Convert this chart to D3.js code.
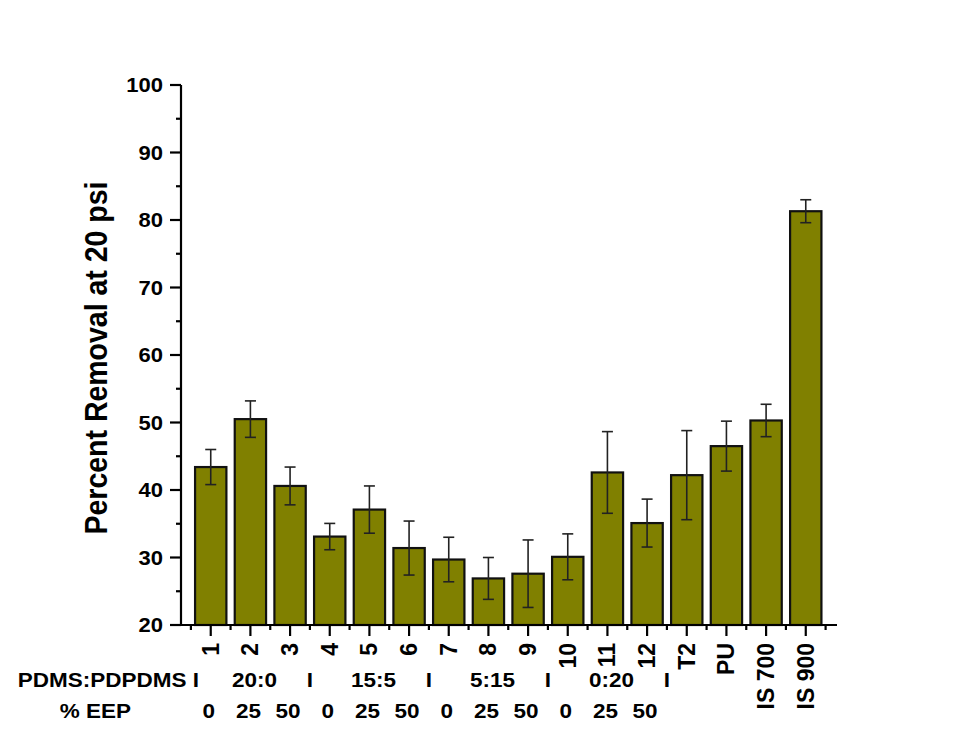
<!DOCTYPE html>
<html>
<head>
<meta charset="utf-8">
<script src="https://cdn.jsdelivr.net/npm/d3@7"></script>
<style>
  html, body { margin: 0; padding: 0; background: #ffffff; }
  svg { display: block; }
  text { font-family: "Liberation Sans", Arial, sans-serif; font-weight: bold; fill: #000; }
</style>
</head>
<body>
<script>
// Samples and their mean percent removal at 20 psi, with standard deviations
const categories = ["1", "2", "3", "4", "5", "6", "7", "8", "9", "10", "11", "12", "T2", "PU", "IS 700", "IS 900"];
const removal = [43.4, 50.5, 40.6, 33.1, 37.1, 31.4, 29.7, 26.9, 27.6, 30.1, 42.6, 35.1, 42.2, 46.5, 50.3, 81.3];
const stdev = [2.6, 2.7, 2.8, 1.95, 3.5, 4.0, 3.3, 3.1, 5.0, 3.4, 6.05, 3.55, 6.6, 3.7, 2.4, 1.7];

// Formulation rows under the axis
const ratioLabels = ["20:0", "15:5", "5:15", "0:20"];
const eepLabels = ["0", "25", "50", "0", "25", "50", "0", "25", "50", "0", "25", "50"];
const yTicks = [20, 30, 40, 50, 60, 70, 80, 90, 100];
const yMinorTicks = [25, 35, 45, 55, 65, 75, 85, 95];

const W = 961, H = 742;
const svg = d3.select("body").append("svg").attr("width", W).attr("height", H);

const axisLeft = 181, axisRight = 837;
const x = d3.scaleBand().domain(categories).range([190.9, 825.6]).paddingInner(0.21).paddingOuter(0.105);
const y = d3.scaleLinear().domain([20, 100]).range([625, 85]);
const step = x.step();
const x0 = x.range()[0];
const cx = d => x(d) + x.bandwidth() / 2;

// Horizontal labels are set slightly wide and short
const hText = (sel, px, py) => sel.attr("transform", (d, i) =>
  `translate(${typeof px === "function" ? px(d, i) : px},${typeof py === "function" ? py(d, i) : py}) scale(1,0.92)`);

// Bars
svg.append("g").selectAll("rect").data(categories).join("rect")
  .attr("x", d => x(d))
  .attr("y", (d, i) => y(removal[i]))
  .attr("width", x.bandwidth())
  .attr("height", (d, i) => y(20) - y(removal[i]))
  .attr("fill", "#808000")
  .attr("stroke", "#111")
  .attr("stroke-width", 2.2);

// Error bars
const eb = svg.append("g").attr("stroke", "#222").attr("stroke-width", 1.6);
categories.forEach((c, i) => {
  const top = y(removal[i] + stdev[i]), bot = y(removal[i] - stdev[i]);
  eb.append("line").attr("x1", cx(c)).attr("x2", cx(c)).attr("y1", top).attr("y2", bot);
  eb.append("line").attr("x1", cx(c) - 5.5).attr("x2", cx(c) + 5.5).attr("y1", top).attr("y2", top);
  eb.append("line").attr("x1", cx(c) - 5.5).attr("x2", cx(c) + 5.5).attr("y1", bot).attr("y2", bot);
});

// Axis lines
const ax = svg.append("g").attr("stroke", "#000").attr("stroke-width", 2.2);
ax.append("line").attr("x1", axisLeft).attr("x2", axisLeft).attr("y1", y(100)).attr("y2", y(20) + 1);
ax.append("line").attr("x1", axisLeft - 1).attr("x2", axisRight).attr("y1", y(20)).attr("y2", y(20));

// Y ticks
ax.append("g").selectAll("line").data(yTicks).join("line")
  .attr("x1", axisLeft - 11).attr("x2", axisLeft).attr("y1", d => y(d)).attr("y2", d => y(d));
ax.append("g").selectAll("line").data(yMinorTicks).join("line")
  .attr("x1", axisLeft - 5).attr("x2", axisLeft).attr("y1", d => y(d)).attr("y2", d => y(d));
svg.append("g").selectAll("text").data(yTicks).join("text")
  .call(hText, axisLeft - 18, d => y(d))
  .attr("dy", "0.36em")
  .attr("text-anchor", "end").attr("font-size", 22)
  .text(d => d);

// X ticks: major at bar centres, minor at band boundaries
ax.append("g").selectAll("line").data(categories).join("line")
  .attr("x1", cx).attr("x2", cx)
  .attr("y1", y(20)).attr("y2", y(20) + 11);
ax.append("g").selectAll("line").data(d3.range(categories.length + 1)).join("line")
  .attr("x1", k => x0 + k * step).attr("x2", k => x0 + k * step)
  .attr("y1", y(20)).attr("y2", y(20) + 5);

svg.append("g").selectAll("text").data(categories).join("text")
  .attr("transform", d => `translate(${cx(d) - 1},643) rotate(-90) scale(1,1.08)`)
  .attr("dy", "0.36em")
  .attr("text-anchor", "end").attr("font-size", 23)
  .text(d => d);

// Y axis title
svg.append("text")
  .attr("transform", "translate(107,358) rotate(-90) scale(1,1.1)")
  .attr("text-anchor", "middle").attr("font-size", 28.5)
  .text("Percent Removal at 20 psi");

// Formulation rows
const row1 = 687, row2 = 718;
svg.append("text").call(hText, x0 + 8, row1).attr("text-anchor", "end").attr("font-size", 22.5)
  .text("PDMS:PDPDMS I");
svg.append("g").selectAll("text").data([3, 6, 9, 12]).join("text")
  .call(hText, k => x0 + k * step, row1).attr("text-anchor", "middle").attr("font-size", 22.5)
  .text("I");
svg.append("g").selectAll("text").data(ratioLabels).join("text")
  .call(hText, (d, i) => cx(categories[i * 3 + 1]) + 4, row1)
  .attr("text-anchor", "middle").attr("font-size", 22.5)
  .text(d => d);

svg.append("text").call(hText, 131, row2).attr("text-anchor", "end").attr("font-size", 22.5)
  .text("% EEP");
svg.append("g").selectAll("text").data(eepLabels).join("text")
  .call(hText, (d, i) => cx(categories[i]) - 2, row2)
  .attr("text-anchor", "middle").attr("font-size", 22.5)
  .text(d => d);
</script>
</body>
</html>
